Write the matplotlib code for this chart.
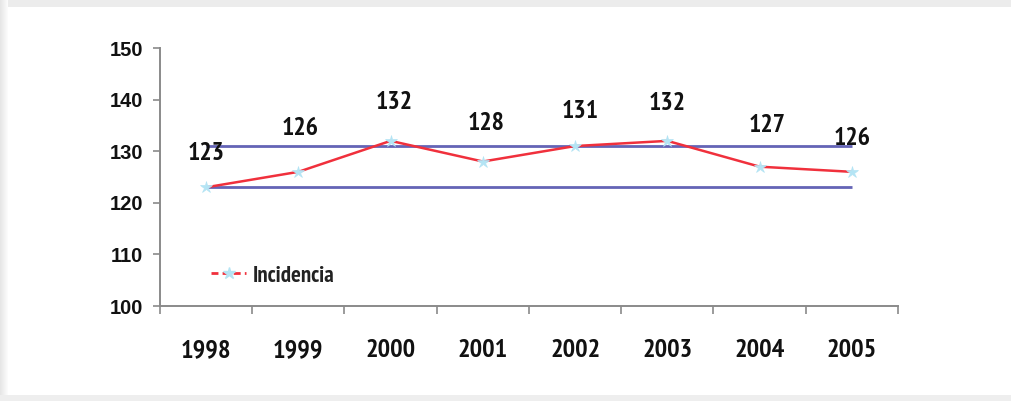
import matplotlib
matplotlib.use("Agg")
import matplotlib.pyplot as plt
from matplotlib.lines import Line2D
from matplotlib.patches import Rectangle
import numpy as np

# Incidence per year
years = ["1998", "1999", "2000", "2001", "2002", "2003", "2004", "2005"]
incidencia = [123, 126, 132, 128, 131, 132, 127, 126]

# Reference band (lower / upper limits)
limite_inferior = 123
limite_superior = 131

y_ticks = [100, 110, 120, 130, 140, 150]

# Offsets (pixels) of the value labels relative to each point
label_dy = [34, 43, 38, 38, 35, 37, 41, 33]
label_dx = [0, 2, 4, 3, 5, 0, 8, 0]

W, H, DPI = 1012, 401, 100
fig = plt.figure(figsize=(W / DPI, H / DPI), dpi=DPI)
fig.patch.set_facecolor("white")

# Light grey page frame
fig.patches.append(Rectangle((0, 1 - 7 / H), 1, 7 / H, transform=fig.transFigure,
                             facecolor="#ececec", edgecolor="none", zorder=0))
for i in range(8):
    shade = 0.90 + i * 0.012
    fig.patches.append(Rectangle((i / W, 0), 1 / W, 1, transform=fig.transFigure,
                                 facecolor=(shade, shade, shade), edgecolor="none", zorder=0))
fig.patches.append(Rectangle((0, 0), 1, 6 / H, transform=fig.transFigure,
                             facecolor="#eeeeee", edgecolor="none", zorder=0))

left, right = 160 / W, 898 / W
top, bottom = 1 - 48 / H, 1 - 306 / H
ax = fig.add_axes([left, bottom, right - left, top - bottom])
ax.set_facecolor("none")

x = np.arange(len(years))
ax.set_xlim(-0.5, len(years) - 0.5)
ax.set_ylim(100, 150)

band_color = "#6464b6"
ax.hlines([limite_superior, limite_inferior], x[0], x[-1], colors=band_color,
          linewidth=2.0, zorder=2)

red = "#f0303c"
marker_color = "#b4e4f4"
ax.plot(x, incidencia, color=red, linewidth=1.8, zorder=3,
        marker="*", markersize=9, markerfacecolor=marker_color,
        markeredgecolor=marker_color, markeredgewidth=0.5)

narrow = ["PT Sans Narrow", "Roboto Condensed", "Liberation Sans", "DejaVu Sans"]
for xi, v, dy, dx in zip(x, incidencia, label_dy, label_dx):
    ax.annotate(str(v), (xi, v), xytext=(dx * 72 / DPI, dy * 72 / DPI),
                textcoords="offset points", ha="center", va="center",
                fontsize=18.5, fontweight="bold", family=narrow, color="#111111")

# Axes styling
for s in ["top", "right"]:
    ax.spines[s].set_visible(False)
for s in ["left", "bottom"]:
    ax.spines[s].set_color("#8a8a8a")
    ax.spines[s].set_linewidth(1.4)

ax.set_yticks(y_ticks)
ax.set_yticklabels([str(t) for t in y_ticks], fontsize=14.5, fontweight="bold",
                   family=["Liberation Sans", "DejaVu Sans"], color="#111111")
ax.tick_params(axis="y", direction="out", length=5, width=1.2, color="#8a8a8a", pad=7)

ax.set_xticks(np.arange(-0.5, len(years), 1.0))
ax.set_xticklabels([])
ax.set_xticks(x, minor=True)
ax.set_xticklabels(years, minor=True, fontsize=19, fontweight="bold",
                   family=narrow, color="#111111")
ax.tick_params(axis="x", which="major", direction="out", length=6, width=1.2,
               color="#8a8a8a")
ax.tick_params(axis="x", which="minor", length=0, pad=24)

handle = Line2D([], [], color=red, linewidth=2.0, linestyle=(0, (2.5, 1.5)),
                marker="*", markersize=9, markerfacecolor=marker_color,
                markeredgecolor=marker_color)
leg = ax.legend([handle], ["Incidencia"], loc="upper left",
                bbox_to_anchor=((200 - 160) / (898 - 160), (306 - 254) / (306 - 48)),
                frameon=False, handlelength=1.5, handletextpad=0.3, borderpad=0,
                prop={"family": narrow, "weight": "bold", "size": 16.5})
for t in leg.get_texts():
    t.set_color("#222222")

fig.savefig("out.png", dpi=DPI, facecolor=fig.get_facecolor())
